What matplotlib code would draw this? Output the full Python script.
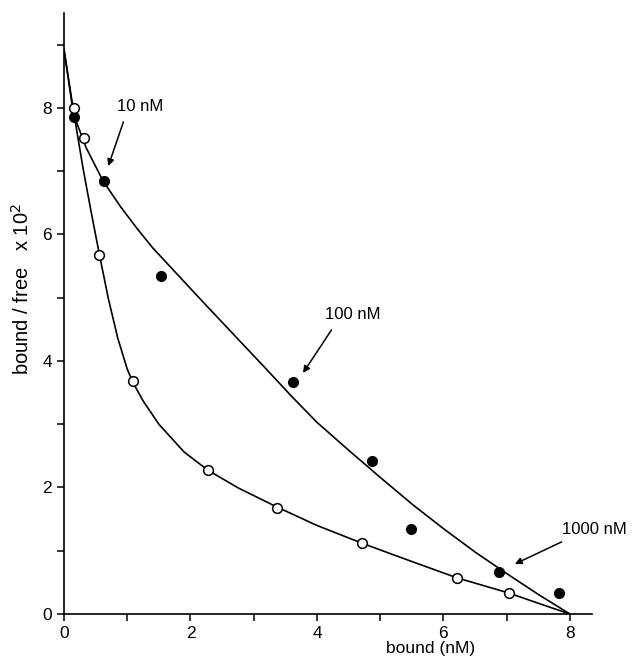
import matplotlib
matplotlib.use("Agg")
import matplotlib.pyplot as plt

plt.rcParams['font.family'] = ['Liberation Sans', 'DejaVu Sans']

# data points (bound nM, bound/free x 10^2)
filled_x = [0.16, 0.63, 1.53, 3.62, 4.87, 5.48, 6.88, 7.83]
filled_y = [7.86, 6.84, 5.34, 3.66, 2.42, 1.34, 0.66, 0.33]

open_x = [0.16, 0.32, 0.56, 1.09, 2.28, 3.37, 4.71, 6.22, 7.04]
open_y = [8.00, 7.52, 5.68, 3.68, 2.28, 1.68, 1.12, 0.57, 0.33]

# fitted curves
upper_x = [0, 0.15, 0.35, 0.62, 0.9, 1.15, 1.4, 1.8, 2.2, 2.7, 3.2, 3.6,
           4.0, 4.5, 5.0, 5.5, 6.0, 6.5, 7.0, 7.5, 8.0]
upper_y = [8.92, 7.90, 7.37, 6.84, 6.43, 6.10, 5.79, 5.36, 4.93, 4.40, 3.87, 3.44,
           3.03, 2.59, 2.16, 1.74, 1.35, 0.98, 0.64, 0.31, 0.0]

lower_x = [0, 0.15, 0.3, 0.43, 0.56, 0.7, 0.85, 1.0, 1.09, 1.25, 1.5, 1.9,
           2.28, 2.76, 3.37, 4.0, 4.71, 5.5, 6.22, 7.04, 7.5, 8.0]
lower_y = [8.92, 7.95, 7.05, 6.35, 5.68, 4.99, 4.36, 3.87, 3.66, 3.37, 3.0, 2.56,
           2.27, 1.99, 1.69, 1.40, 1.12, 0.83, 0.57, 0.33, 0.17, 0.0]

# labels with arrows: text, text pos, arrow start, arrow tip
labels = ["10 nM", "100 nM", "1000 nM"]
label_pos = [(1.2, 8.02), (4.57, 4.73), (8.38, 1.33)]
arrow_from = [(0.94, 7.78), (4.23, 4.49), (7.87, 1.14)]
arrow_to = [(0.70, 7.08), (3.78, 3.81), (7.13, 0.79)]

fig = plt.figure(figsize=(6.32, 6.6), dpi=100)
ax = fig.add_axes([0.1013, 0.0697, 0.8354, 0.9106])

ax.plot(upper_x, upper_y, color="black", lw=1.2, zorder=2)
ax.plot(lower_x, lower_y, color="black", lw=1.2, zorder=2)
ax.plot(filled_x, filled_y, "o", color="black", ms=7, zorder=3)
ax.plot(open_x, open_y, "o", mfc="white", mec="black", mew=1.1, ms=7, zorder=3)

for txt, pos, a0, a1 in zip(labels, label_pos, arrow_from, arrow_to):
    ax.text(pos[0], pos[1], txt, ha="center", va="center", fontsize=12)
    ax.annotate("", xy=a1, xytext=a0,
                arrowprops=dict(arrowstyle="-|>", color="black", lw=1.1,
                                mutation_scale=10, shrinkA=0, shrinkB=0))

ax.set_xlim(0, 8.35)
ax.set_ylim(0, 9.5)
ax.set_xticks(range(0, 9))
ax.set_xticklabels([str(i) if i % 2 == 0 else "" for i in range(0, 9)])
ax.set_yticks(range(0, 10))
ax.set_yticklabels([str(i) if i % 2 == 0 and i < 9 else "" for i in range(0, 10)])
ax.tick_params(direction="out", length=5, width=1.1, labelsize=12.5)

for s in ["top", "right"]:
    ax.spines[s].set_visible(False)
for s in ["left", "bottom"]:
    ax.spines[s].set_linewidth(1.2)

ax.set_xlabel("bound (nM)", fontsize=12.5)
ax.xaxis.set_label_coords(0.695, -0.045)
ax.set_ylabel("bound / free   x 10$^2$", fontsize=14.5)
ax.yaxis.set_label_coords(-0.059, 0.54)

fig.savefig("out.png", dpi=100)
